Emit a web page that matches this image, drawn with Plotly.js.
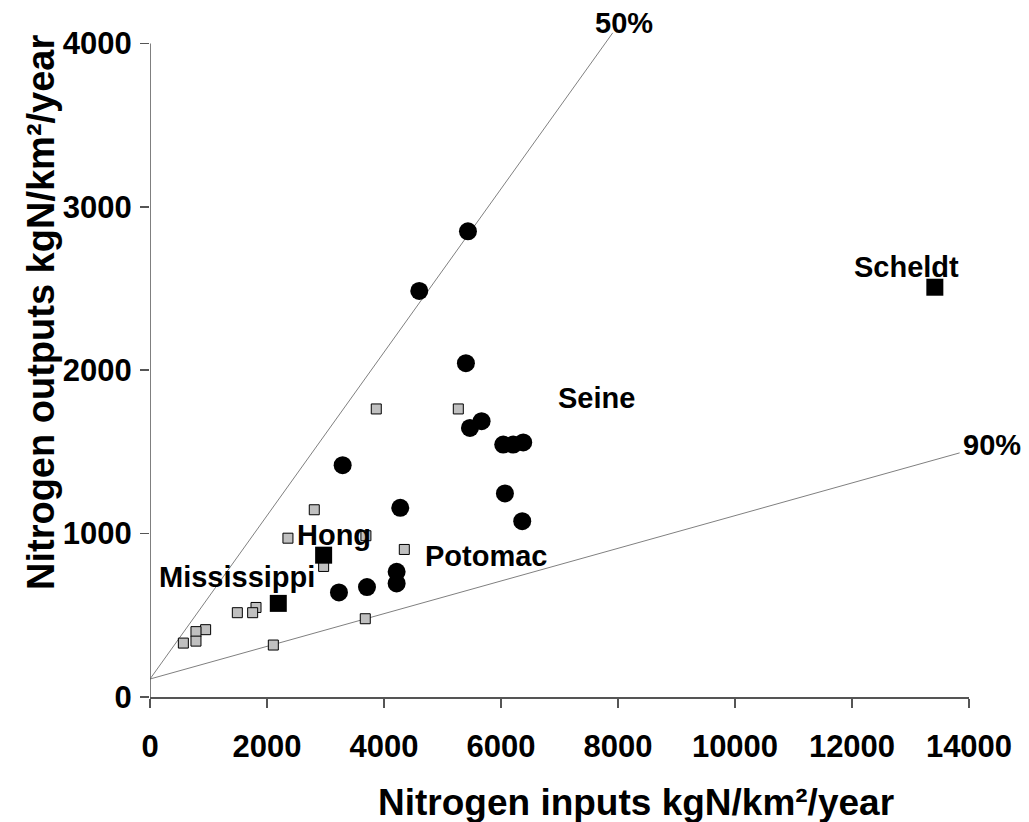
<!DOCTYPE html>
<html>
<head>
<meta charset="utf-8">
<script src="https://cdn.plot.ly/plotly-3.0.1.min.js"></script>
<style>html,body{margin:0;padding:0;background:#fff;}#chart{width:1029px;height:822px;}</style>
</head>
<body>
<div id="chart"></div>
<script>
// Reference lines (retention 50% and 90%)
const line50X = [0, 7910];
const line50Y = [110, 4065];
const line90X = [0, 13840];
const line90Y = [110, 1494];

// Black circles (Seine basin points)
const circleX = [5435, 4603, 5400, 5668, 5469, 6038, 6209, 6380, 3293, 6067, 6363, 4278, 4216, 4216, 3230, 3709];
const circleY = [2850, 2485, 2043, 1688, 1647, 1545, 1545, 1558, 1419, 1246, 1076, 1158, 766, 695, 640, 673];

// Grey small squares
const greyX = [3868, 5270, 2808, 2358, 3691, 4347, 2968, 1812, 1755, 1493, 951, 786, 786, 570, 3680, 2108];
const greyY = [1763, 1763, 1146, 972, 987, 903, 799, 548, 516, 516, 412, 400, 342, 330, 479, 318];

// Big black squares (named rivers)
const bigNames = ["Scheldt", "Hong", "Mississippi"];
const bigX = [13416, 2968, 2193];
const bigY = [2508, 868, 573];

// Labels (in data units)
const labelText = ["Mississippi", "Hong", "Potomac", "Seine", "Scheldt", "50%", "90%"];
const labelX = [1487, 3145, 5742, 7639, 12937, 8100, 14390];
const labelY = [734, 991, 862, 1829, 2630, 4128, 1540];

const xTicks = [0, 2000, 4000, 6000, 8000, 10000, 12000, 14000];
const yTicks = [0, 1000, 2000, 3000, 4000];
const xRange = [0, 14000];
const yRange = [0, 4070];

const FONT = "Liberation Sans, Arial, sans-serif";

const traces = [
  {x: line50X, y: line50Y, mode: "lines", line: {color: "#808080", width: 1}, hoverinfo: "skip", showlegend: false},
  {x: line90X, y: line90Y, mode: "lines", line: {color: "#808080", width: 1}, hoverinfo: "skip", showlegend: false},
  {x: greyX, y: greyY, mode: "markers", marker: {symbol: "square", size: 10, color: "#c0c0c0", line: {color: "#000", width: 1}}, showlegend: false, cliponaxis: false},
  {x: circleX, y: circleY, mode: "markers", marker: {symbol: "circle", size: 18, color: "#000"}, showlegend: false, cliponaxis: false},
  {x: bigX, y: bigY, text: bigNames, mode: "markers", marker: {symbol: "square", size: 17, color: "#000"}, showlegend: false, cliponaxis: false}
];

// labels placed in paper space (converted from data units) so that ones outside the axis range still show
const annotations = labelText.map((t, i) => ({
  x: (labelX[i] - xRange[0]) / (xRange[1] - xRange[0]),
  y: (labelY[i] - yRange[0]) / (yRange[1] - yRange[0]),
  xref: "paper", yref: "paper", text: t, showarrow: false,
  xanchor: "center", yanchor: "middle",
  font: {family: FONT, size: 29, color: "#000", weight: "bold"}
}));
annotations.push({
  xref: "paper", yref: "paper", x: (636 - 150) / 819, y: -(802 - 697) / 665,
  xanchor: "center", yanchor: "middle",
  text: "Nitrogen inputs kgN/km²/year", showarrow: false,
  font: {family: FONT, size: 37, color: "#000", weight: "bold"}
});
annotations.push({
  xref: "paper", yref: "paper", x: -(150 - 41) / 819, y: (697 - 313) / 665,
  xanchor: "center", yanchor: "middle",
  text: "Nitrogen outputs kgN/km²/year", showarrow: false, textangle: -90,
  font: {family: FONT, size: 38, color: "#000", weight: "bold"}
});

const layout = {
  width: 1029, height: 822,
  margin: {l: 150, r: 60, t: 32, b: 125},
  paper_bgcolor: "#fff", plot_bgcolor: "#fff",
  showlegend: false,
  xaxis: {
    range: xRange, tickvals: xTicks, ticktext: xTicks.map(String),
    showgrid: false, zeroline: false, showline: true, linecolor: "#555", linewidth: 1.5,
    ticks: "outside", ticklen: 9, tickcolor: "#555", tickwidth: 1.5,
    tickfont: {family: FONT, size: 31, color: "#000", weight: "bold"},
    ticklabelstandoff: 12, fixedrange: true
  },
  yaxis: {
    range: yRange, tickvals: yTicks, ticktext: yTicks.map(String),
    showgrid: false, zeroline: false, showline: false,
    ticks: "outside", ticklen: 9, tickcolor: "#555", tickwidth: 1.5,
    tickfont: {family: FONT, size: 31, color: "#000", weight: "bold"},
    ticklabelstandoff: 2, fixedrange: true
  },
  shapes: [
    {type: "line", xref: "x", yref: "y", x0: 0, x1: 0, y0: 0, y1: yTicks[yTicks.length - 1], line: {color: "#555", width: 1.5}}
  ],
  annotations: annotations
};

Plotly.newPlot("chart", traces, layout, {displayModeBar: false, staticPlot: true});
</script>
</body>
</html>
